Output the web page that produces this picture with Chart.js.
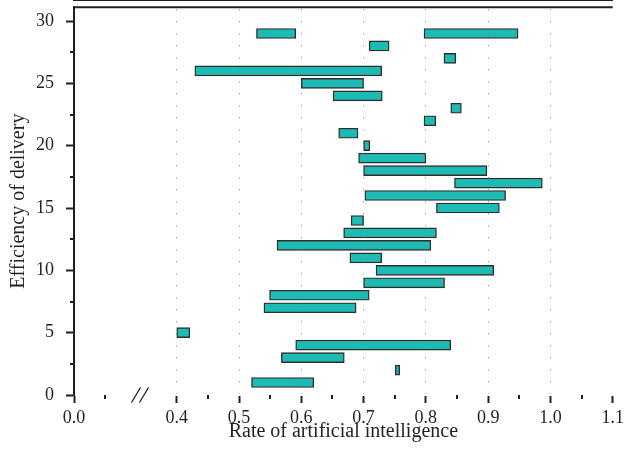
<!DOCTYPE html>
<html>
<head>
<meta charset="utf-8">
<script src="https://cdn.jsdelivr.net/npm/chart.js@4/dist/chart.umd.min.js"></script>
<style>
  html, body { margin: 0; padding: 0; background: #fff; }
</style>
</head>
<body>
<canvas id="chart" width="624" height="451"></canvas>
<script>
// one bar per row: y position, start and end on the AI-rate axis
const rows   = [29, 29, 28, 27, 26, 25, 24, 23, 22, 21, 20, 19, 18, 17, 16, 15, 14, 13, 12, 11, 10, 9, 8, 7, 5, 4, 3, 2, 1];
const starts = [0.528, 0.797, 0.709, 0.829, 0.429, 0.600, 0.651, 0.840, 0.797, 0.660, 0.700, 0.692, 0.700, 0.846, 0.702, 0.817, 0.680, 0.668, 0.561, 0.678, 0.720, 0.700, 0.549, 0.540, 0.400, 0.591, 0.568, 0.751, 0.520];
const ends   = [0.591, 0.948, 0.741, 0.848, 0.729, 0.700, 0.730, 0.857, 0.816, 0.691, 0.710, 0.800, 0.898, 0.987, 0.928, 0.918, 0.700, 0.817, 0.808, 0.729, 0.909, 0.830, 0.709, 0.688, 0.421, 0.840, 0.669, 0.758, 0.620];

const yTicks = [0, 5, 10, 15, 20, 25, 30];
const yMinor = [2.5, 7.5, 12.5, 17.5, 22.5, 27.5];
const xTicks = [0.4, 0.5, 0.6, 0.7, 0.8, 0.9, 1.0, 1.1];
const xMinor = [0.45, 0.55, 0.65, 0.75, 0.85, 0.95, 1.05];

// the x axis is broken: 0.0 .. 0.4 is squeezed into a short stub
const X_ZERO = 0.235;      // where "0.0" sits on the squeezed axis
const X_ZERO_MINOR = 0.285;
const X_BREAK = 0.341;

const ink = "#231f20";

Chart.defaults.font.family = "'Liberation Serif', 'Times New Roman', serif";
Chart.defaults.color = ink;

// extra axis bits chart.js has no option for: top frame, short minor ticks, break mark
const axisExtras = {
  id: "axisExtras",
  afterDraw(chart) {
    const { ctx, chartArea: a, scales: { x, y } } = chart;
    ctx.save();
    ctx.setLineDash([]);
    ctx.strokeStyle = ink;
    ctx.lineWidth = 2;
    ctx.beginPath();
    ctx.moveTo(a.left - 1, a.top);
    ctx.lineTo(a.right, a.top);
    ctx.stroke();

    yMinor.forEach(v => {
      const p = Math.round(y.getPixelForValue(v));
      ctx.beginPath();
      ctx.moveTo(a.left - 4, p);
      ctx.lineTo(a.left, p);
      ctx.stroke();
    });
    [X_ZERO_MINOR, ...xMinor].forEach(v => {
      const p = Math.round(x.getPixelForValue(v));
      ctx.beginPath();
      ctx.moveTo(p, a.bottom);
      ctx.lineTo(p, a.bottom + 4);
      ctx.stroke();
    });

    const bx = x.getPixelForValue(X_BREAK);
    ctx.fillStyle = "#fff";
    ctx.fillRect(bx - 4, a.bottom - 2, 8, 4);
    ctx.lineWidth = 1.3;
    [-4, 4].forEach(d => {
      ctx.beginPath();
      ctx.moveTo(bx + d - 4.5, a.bottom + 7.5);
      ctx.lineTo(bx + d + 4.5, a.bottom - 7.5);
      ctx.stroke();
    });
    ctx.restore();
  }
};

new Chart(document.getElementById("chart"), {
  type: "bar",
  data: {
    datasets: [{
      data: rows.map((r, i) => ({ y: r, x: [starts[i], ends[i]] })),
      backgroundColor: "#1dbbb3",
      borderColor: "#2e2e2e",
      borderWidth: 1.4,
      borderSkipped: false,
      barThickness: 10
    }]
  },
  options: {
    indexAxis: "y",
    responsive: false,
    animation: false,
    layout: { padding: { top: 7.3, right: 11.3, bottom: 0, left: 0 } },
    plugins: { legend: { display: false }, tooltip: { enabled: false } },
    scales: {
      x: {
        type: "linear",
        min: X_ZERO,
        max: 1.1,
        afterBuildTicks: s => { s.ticks = [X_ZERO, ...xTicks].map(v => ({ value: v })); },
        afterFit: s => { s.height = 56; s.paddingLeft = 0; s.paddingRight = 0; },
        ticks: {
          autoSkip: false,
          maxRotation: 0,
          padding: 4,
          font: { size: 18 },
          callback: v => (v < 0.3 ? "0.0" : v.toFixed(1))
        },
        grid: {
          z: 1,
          lineWidth: 1,
          color: c => (c.tick && c.tick.value >= 0.39 && c.tick.value <= 1.01 ? "#7a7a7a" : "rgba(0,0,0,0)"),
          tickLength: 8,
          tickWidth: 2,
          tickColor: ink,
          tickBorderDash: [],
          tickBorderDashOffset: 0
        },
        border: { color: ink, width: 2, dash: [1, 11], dashOffset: 10 },
        title: {
          display: true,
          text: "Rate of artificial intelligence",
          font: { size: 20 },
          padding: { top: 0, bottom: 7.5 }
        }
      },
      y: {
        type: "linear",
        min: 0,
        max: 31.1,
        offset: false,
        afterBuildTicks: s => { s.ticks = yTicks.map(v => ({ value: v })); },
        afterFit: s => { s.width = 74; s.paddingTop = 0; s.paddingBottom = 0; },
        ticks: { padding: 12, font: { size: 18 } },
        grid: {
          offset: false,
          drawOnChartArea: false,
          tickLength: 8,
          tickWidth: 2,
          tickColor: ink
        },
        border: { color: ink, width: 2 },
        title: {
          display: true,
          text: "Efficiency of delivery",
          font: { size: 20 },
          padding: { top: 7, bottom: 0 }
        }
      }
    }
  },
  plugins: [axisExtras]
});
</script>
</body>
</html>
